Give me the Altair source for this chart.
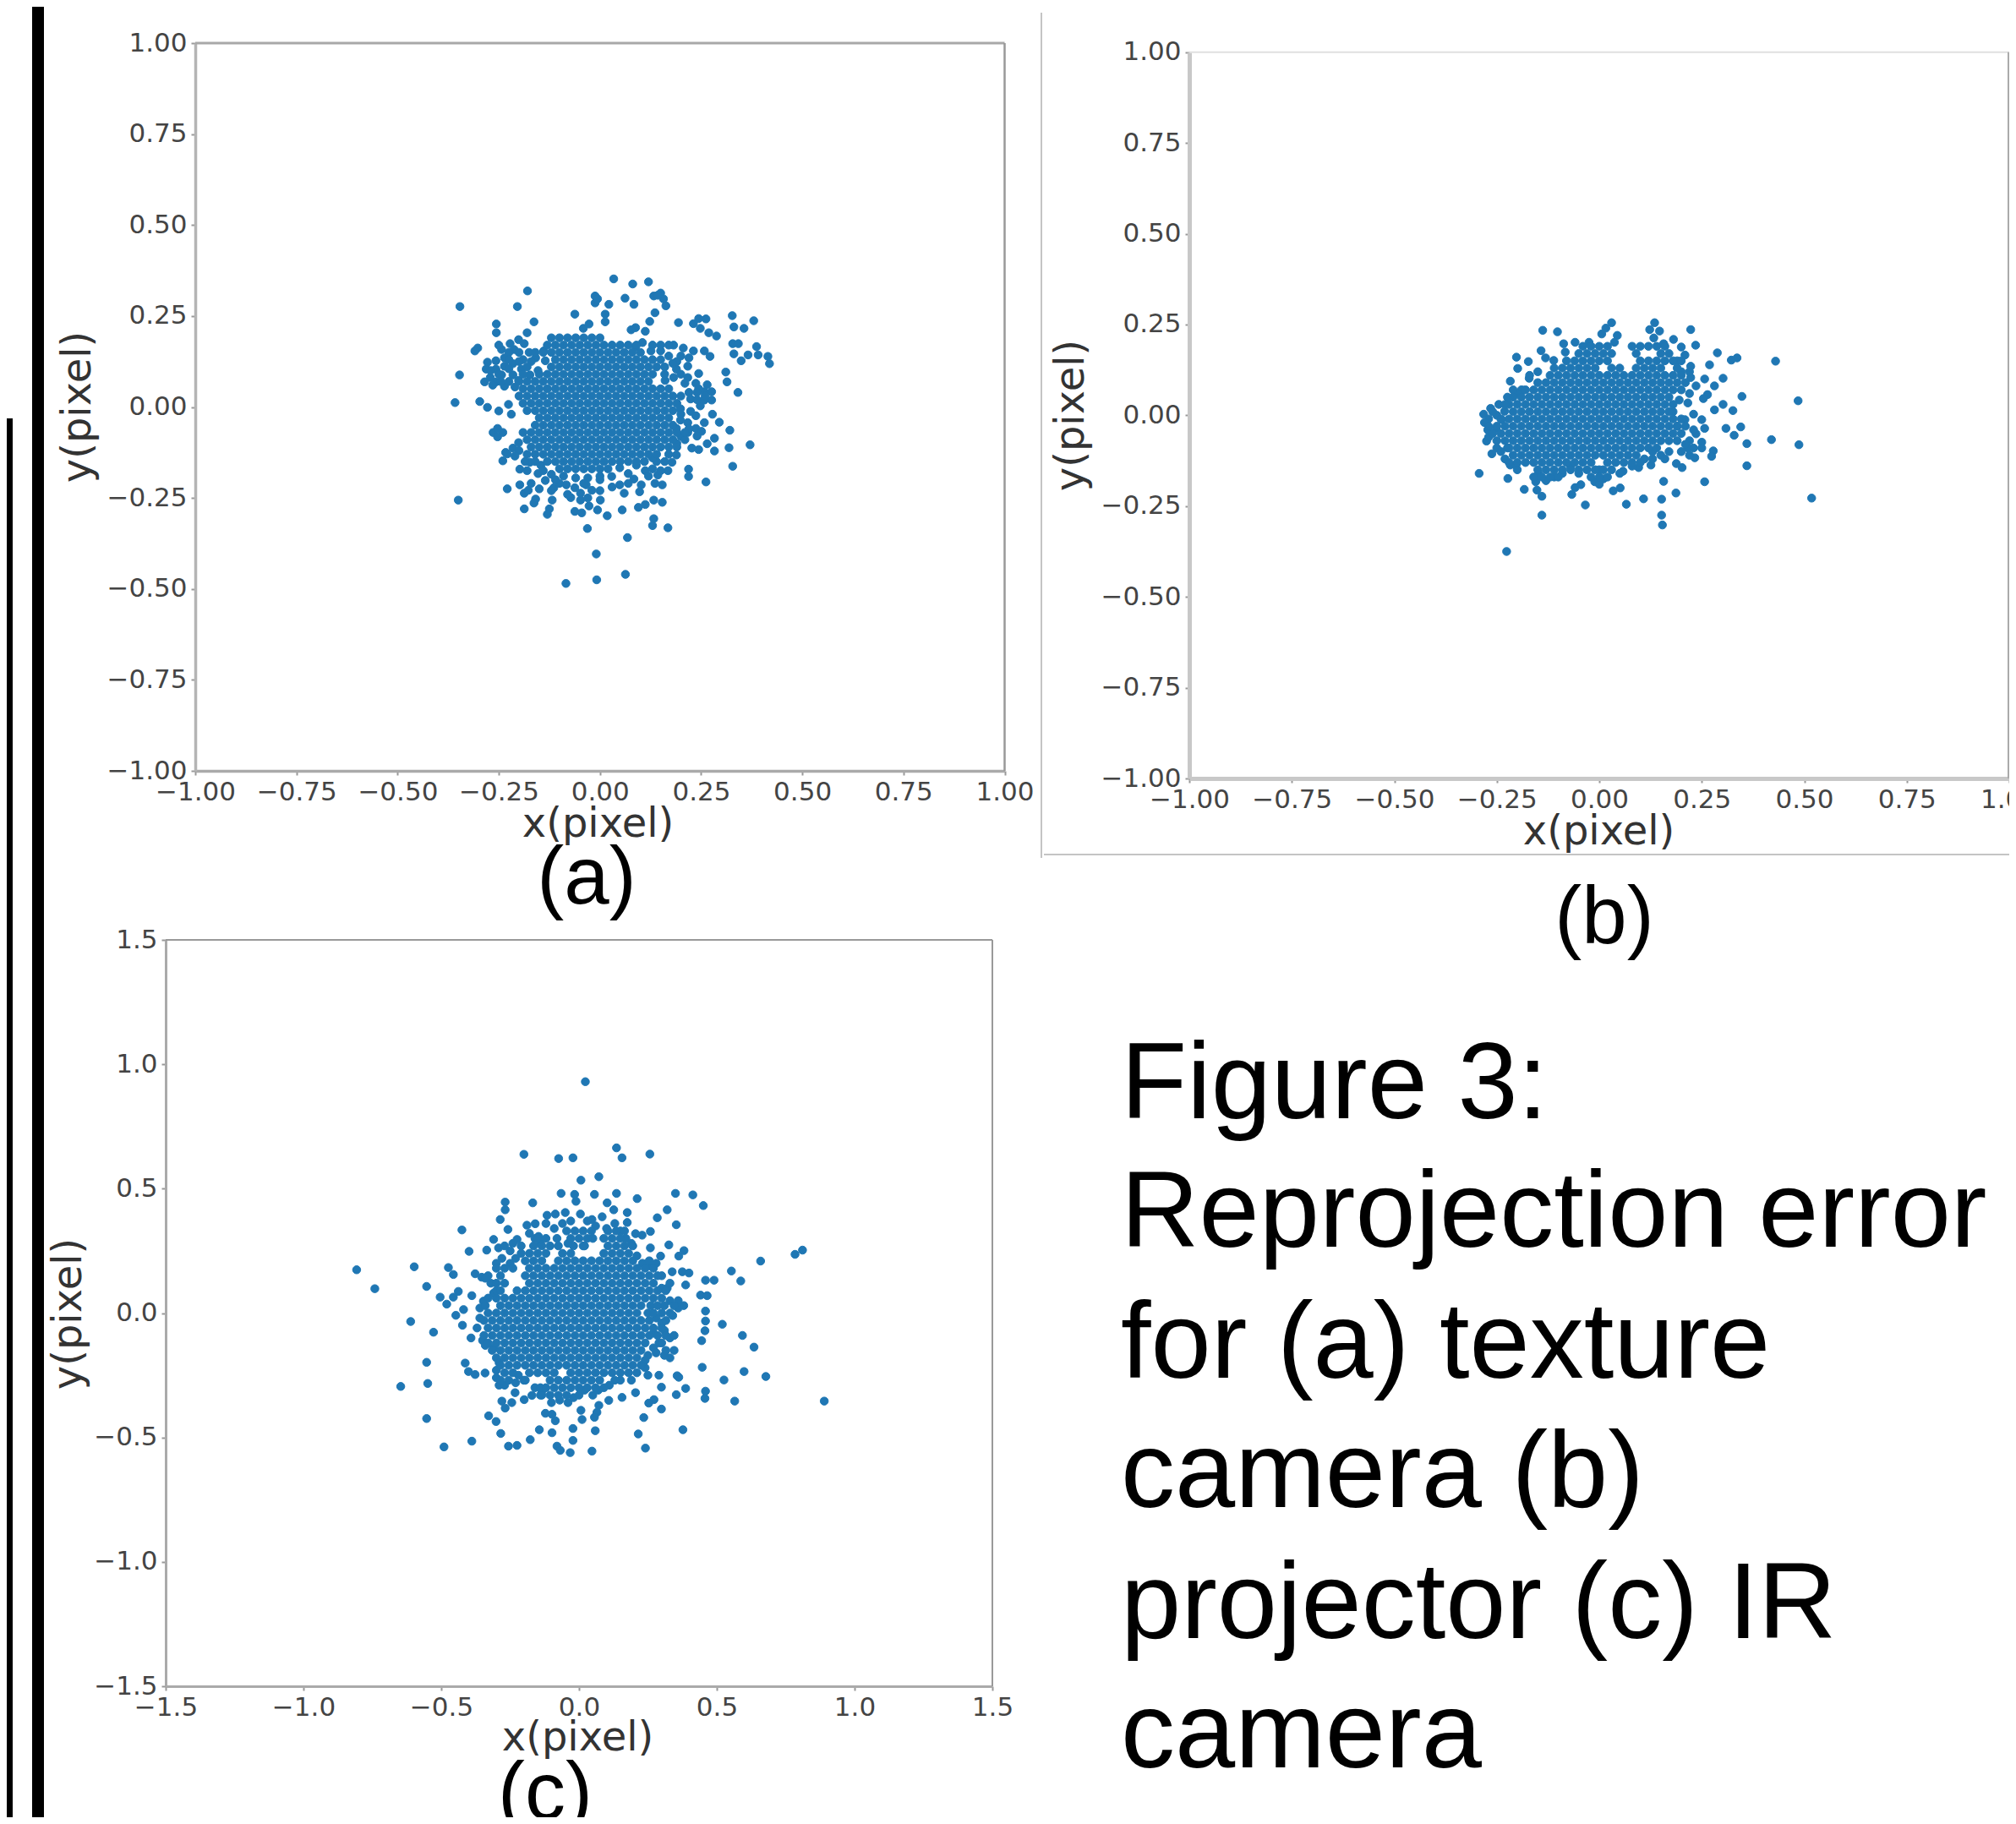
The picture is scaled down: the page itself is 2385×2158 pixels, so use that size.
import altair as alt
import pandas as pd

BLUE = "#1f77b4"
FONT = "DejaVu Sans"
SANS = "Liberation Sans"

ticks_ab = [-1, -0.75, -0.5, -0.25, 0, 0.25, 0.5, 0.75, 1]
ticks_c = [-1.5, -1, -0.5, 0, 0.5, 1, 1.5]

a_outer = [(.034,.352),(.081,.338),(.12,.344),(-.179,.319),(-.346,.276),(-.204,.276),(-.012,.305),(-.012,.286),(-.006,.297),
(.022,.282),(.062,.299),(.084,.282),(.133,.305),(.150,.313),(.157,.297),(.163,.278),(.143,.307),(.136,.259),(.123,.235),
(-.062,.255),(.013,.255),(.013,.234),(-.163,.234),(-.256,.228),(-.256,.204),(-.027,.228),(-.041,.216),(.088,.218),(.112,.208),(.077,.212),
(.194,.232),(.244,.243),(.262,.242),(.231,.229),(.248,.216),(.269,.204),(.288,.195),(.327,.251),(.380,.237),(.331,.220),(.356,.216),
(.328,.174),(.342,.174),(.387,.166),(.331,.146),(.349,.127),(.366,.143),(.391,.143),(.415,.139),(.419,.119),(-.302,.162),(-.309,.154),
(-.347,.088),(.311,.096),(.314,.069),(.341,.040),(-.358,.012),(-.297,.015),(-.278,-.001),(-.25,-.011),(-.226,.007),(-.219,-.02),
(.278,-.02),(.295,-.042),(.321,-.064),(.283,-.086),(.265,-.101),(.244,-.117),(.227,-.113),(.283,-.121),(.319,-.112),(.371,-.104),
(.328,-.163),(.219,-.171),(.219,-.191),(.262,-.206),(-.264,-.07),(-.240,-.07),(-.253,-.059),(-.253,-.082),(-.24,-.148),(-.233,-.125),
(-.198,-.171),(-.229,-.225),(-.198,-.214),(-.187,-.237),(-.177,-.229),(-.35,-.256),(-.159,-.253),(-.163,-.264),(-.187,-.28),
(-.118,-.256),(-.125,-.28),(-.13,-.295),(-.135,-.202),(-.114,-.222),(-.083,-.214),(-.072,-.249),(-.048,-.256),(-.062,-.287),(-.045,-.291),
(-.027,-.272),(-.006,-.283),(.001,-.256),(.018,-.299),(.055,-.283),(-.031,-.334),(.095,-.276),(.112,-.268),(.133,-.256),(.154,-.262),
(.133,-.307),(.130,-.326),(.168,-.332),(.068,-.359),(-.009,-.404),(.063,-.46),(-.008,-.475),(-.084,-.485),
(-.062,-.222),(-.034,-.214),(-.02,-.229),(-.048,-.237),(.029,-.191),(.049,-.214),(.06,-.237),(.084,-.198),(.102,-.214),(.098,-.233),
(.136,-.21),(.154,-.214),(.143,-.187),(.168,-.175),(.178,-.152),(.15,-.175),(.189,-.132),(.07,-.183),(.112,-.175),(.049,-.167),
(-.18,.204),(-.201,.185),(-.222,.174),(-.243,.158),(-.25,.17),(-.212,.158),(-.187,.174),(-.236,.135),(-.257,.127),(-.278,.123),(-.281,.104),
(-.257,.104),(-.236,.112),(-.215,.119),(-.271,.081),(-.285,.069),(-.257,.069),(-.236,.057),(-.243,.088),(-.215,.088),(-.194,.104),
(-.159,.135),(-.139,.154),(-.135,.127),(-.153,.1),(-.173,.088),(-.201,.073),
(.105,.177),(.088,.166),(.126,.154),(.15,.154),(.182,.17),(.206,.162),(.231,.154),(.258,.154),(.272,.139),(.22,.135),
(.189,.104),(.217,.112),(.244,.092),(.217,.081),(.182,.081),(.161,.073),(.237,.065),(.265,.061),(.276,.042),(.258,.042),(.244,.05),(.21,.065),
(.276,.019),(.258,.019),(.224,.022),(.199,-.005),(.224,-.012),(.248,.003),(.237,-.024),(.199,-.036),(.258,-.043),(.237,-.059),(.217,-.07),
(.217,-.043),(.251,-.067),(.189,-.059),(-.215,-.113),(-.229,-.129),(-.201,-.098),(-.173,-.152),(-.146,-.16),(-.153,-.183),(-.18,-.175),
(-.225,.15),(-.2,.15),(-.175,.15),(-.225,.13),(-.19,.13),(-.17,.125),(-.25,.09),(-.225,.105),(-.2,.125),(-.18,.11),(-.27,.1),(-.265,.06),
(-.245,.07),(-.225,.07),(-.21,.055),(-.19,.09),(-.2,-.12),(-.18,-.13),(-.16,-.15),(-.185,-.15),(-.21,-.135),(-.14,-.175),(-.12,-.185),(-.09,-.19),
(-.06,-.195),(-.03,-.195),(0,-.19),(0,-.2),(-.1,-.21),(-.12,-.23),(-.08,-.24),(-.03,-.25),(0,-.23),(-.15,-.225),(-.17,-.21),(-.11,-.2),(-.04,-.21),
(.03,-.22),(.07,-.21),(.12,-.19),(.13,-.17),(.09,-.16),(.14,-.15),(.16,-.15),(.17,-.13),(.13,-.14),
(.2,.14),(.17,.14),(.19,.125),(.16,.11),(.18,.12),(.2,.09),(.16,.09),(.17,.05),(.18,.03),(.16,.03),(.2,.03),(.22,.04),(.24,.04),(.26,.03),(.24,.02),
(.2,-.02),(.2,-.08),(.22,-.06),(.21,-.09),(.24,-.08),(.19,-.1),(.19,-.11),(.17,.17),(.15,.17),(.13,.17),(.1,.15),(.08,.15)]

a_core = {
.19:[-.12,-.1,-.08,-.06,-.04,-.02,0],
.17:[-.13,-.11,-.09,-.07,-.05,-.03,-.01,.01,.03,.05,.07,.09],
.15:[-.16,-.14,-.12,-.1,-.08,-.06,-.04,-.02,0,.02,.04,.06],
.13:[-.11,-.09,-.07,-.05,-.03,-.01,.01,.03,.05,.07,.09,.11,.13,.15],
.11:[-.12,-.1,-.08,-.06,-.04,-.02,0,.02,.04,.06,.08,.1,.12,.14],
.09:[-.15,-.13,-.11,-.09,-.07,-.05,-.03,-.01,.01,.03,.05,.07,.09,.11,.13],
.07:[-.2,-.18,-.16,-.14,-.12,-.1,-.08,-.06,-.04,-.02,0,.02,.04,.06,.08,.1,.12],
.05:[-.19,-.17,-.15,-.13,-.11,-.09,-.07,-.05,-.03,-.01,.01,.03,.05,.07,.09,.11,.13,.15],
.03:[-.2,-.18,-.16,-.14,-.12,-.1,-.08,-.06,-.04,-.02,0,.02,.04,.06,.08,.1,.12,.14],
.01:[-.19,-.17,-.15,-.13,-.11,-.09,-.07,-.05,-.03,-.01,.01,.03,.05,.07,.09,.11,.13,.15,.17,.19],
-.01:[-.18,-.16,-.14,-.12,-.1,-.08,-.06,-.04,-.02,0,.02,.04,.06,.08,.1,.12,.14,.16,.18],
-.03:[-.15,-.13,-.11,-.09,-.07,-.05,-.03,-.01,.01,.03,.05,.07,.09,.11,.13,.15,.17],
-.05:[-.16,-.14,-.12,-.1,-.08,-.06,-.04,-.02,0,.02,.04,.06,.08,.1,.12,.14,.16,.18],
-.07:[-.19,-.17,-.15,-.13,-.11,-.09,-.07,-.05,-.03,-.01,.01,.03,.05,.07,.09,.11,.13,.15,.17,.19,.21],
-.09:[-.18,-.16,-.14,-.12,-.1,-.08,-.06,-.04,-.02,0,.02,.04,.06,.08,.1,.12,.14,.16,.18],
-.11:[-.17,-.15,-.13,-.11,-.09,-.07,-.05,-.03,-.01,.01,.03,.05,.07,.09,.11,.13,.15,.17],
-.13:[-.16,-.14,-.12,-.1,-.08,-.06,-.04,-.02,0,.02,.04,.06,.08,.1,.12,.14],
-.15:[-.13,-.11,-.09,-.07,-.05,-.03,-.01,.01,.03,.05,.07,.09,.11],
-.17:[-.1,-.08,-.06,-.04,-.02,0,.02],
}

b_outer = [(.03,.255),(.016,.24),(.006,.224),(.044,.22),(.037,.201),(.135,.255),(.123,.236),(.147,.232),(.133,.213),(.181,.209),(.223,.236),
(.2,.188),(.235,.193),(.209,.166),(.157,.197),(-.138,.234),(-.102,.23),(-.202,.16),(-.173,.148),(-.199,.129),(-.142,.178),(-.131,.158),
(-.111,.151),(-.087,.197),(-.083,.174),(-.059,.201),(-.025,.201),(-.217,.094),(-.171,.102),(-.186,.069),(.288,.172),(.336,.158),(.322,.152),(.43,.149),
(.269,.139),(.302,.102),(.257,.1),(.281,.081),(.264,.057),(.254,.046),(.348,.052),(.485,.04),(.302,.03),(.281,.015),(.326,.013),(.345,-.032),
(.309,-.036),(.329,-.055),(.36,-.078),(.42,-.067),(.487,-.081),(.36,-.139),(.257,-.183),(.518,-.228),
(.216,.034),(.23,.003),(.25,-.012),(.257,-.036),(.236,-.051),(.25,-.074),(.278,-.098),(.274,-.113),(.233,-.117),(.216,-.09),(.202,-.144),(.188,-.133),
(.223,.104),(.236,.081),(.223,.135),(.195,.042),(.209,-.012),
(-.282,.003),(-.265,.019),(-.245,.03),(-.224,.05),(-.272,-.04),(-.252,-.036),(-.275,-.071),(-.262,-.106),(-.231,.011),(-.238,-.012),(-.224,-.09),
(-.217,-.137),(-.203,-.137),(-.293,-.16),(-.223,-.174),(-.183,-.204),(-.155,-.183),(-.152,-.206),(-.14,-.223),(-.14,-.275),(-.226,-.375),(-.148,-.16),
(-.067,-.218),(-.059,-.199),(-.045,-.191),(-.034,-.247),(.034,-.208),(.051,-.2),(.066,-.245),(.108,-.23),(.152,-.231),(.157,-.182),(.187,-.214),
(.152,-.275),(.154,-.302),(.058,-.154),(.096,-.144),(.126,-.137),(-.011,-.183),(.01,-.175),
(-.15,.12),(-.17,.11),(-.19,.07),(-.2,.06),(-.21,.07),(-.22,.03),(-.23,.03),(-.25,0),(-.27,-.01),(-.28,-.02),(-.27,-.03),(-.26,.01),(-.27,-.06),(-.25,-.07),
(-.25,-.09),(-.24,-.1),(-.23,-.12),(-.22,-.13),(-.2,-.15),(-.16,-.17),(-.13,-.18),(-.11,-.17),(-.09,-.16),(-.07,-.14),(-.05,-.16),(0,-.15),(0,-.19),(.05,-.16),
(.19,.15),(.2,.12),(.22,.12),(.2,.07),(.21,.09),(.22,.06),(.18,.03),(.18,.01),(.19,-.03),(.23,-.04),(.22,-.07),(.21,-.08),(.2,-.1),(.22,-.11),(.25,-.09),(.23,-.09),
(.17,-.1),(.15,-.11),(.13,-.1),(.13,-.12),(.11,-.12),(.1,-.13),(.08,-.14),(.16,-.12)]

b_core = {
.19:[-.04,-.02,0,.02,.08,.1,.12,.14,.16],
.17:[-.05,-.03,-.01,.01,.03,.09,.15,.17],
.15:[-.08,-.06,-.04,-.02,0,.02,.1,.12,.14,.16,.18,.2],
.13:[-.11,-.09,-.07,-.05,-.03,-.01,.03,.05,.09,.11,.13,.15,.19],
.11:[-.12,-.1,-.08,-.06,-.04,-.02,0,.02,.04,.06,.08,.1,.12,.14,.16,.18,.2],
.09:[-.15,-.13,-.11,-.09,-.07,-.05,-.03,-.01,.01,.03,.05,.07,.09,.11,.13,.15,.17,.19],
.07:[-.18,-.16,-.14,-.12,-.1,-.08,-.06,-.04,-.02,0,.02,.04,.06,.08,.1,.12,.14,.16,.18],
.05:[-.21,-.19,-.17,-.15,-.13,-.11,-.09,-.07,-.05,-.03,-.01,.01,.03,.05,.07,.09,.11,.13,.15,.17],
.03:[-.2,-.18,-.16,-.14,-.12,-.1,-.08,-.06,-.04,-.02,0,.02,.04,.06,.08,.1,.12,.14,.16],
.01:[-.21,-.19,-.17,-.15,-.13,-.11,-.09,-.07,-.05,-.03,-.01,.01,.03,.05,.07,.09,.11,.13,.15,.17],
-.01:[-.24,-.22,-.2,-.18,-.16,-.14,-.12,-.1,-.08,-.06,-.04,-.02,0,.02,.04,.06,.08,.1,.12,.14,.16,.18,.2],
-.03:[-.25,-.23,-.21,-.19,-.17,-.15,-.13,-.11,-.09,-.07,-.05,-.03,-.01,.01,.03,.05,.07,.09,.11,.13,.15,.17,.19,.21],
-.05:[-.26,-.24,-.22,-.2,-.18,-.16,-.14,-.12,-.1,-.08,-.06,-.04,-.02,0,.02,.04,.06,.08,.1,.12,.14,.16,.18,.2],
-.07:[-.23,-.21,-.19,-.17,-.15,-.13,-.11,-.09,-.07,-.05,-.03,-.01,.01,.03,.05,.07,.09,.11,.13,.15,.17,.19],
-.09:[-.22,-.2,-.18,-.16,-.14,-.12,-.1,-.08,-.06,-.04,-.02,0,.02,.04,.06,.08,.1,.12,.14],
-.11:[-.21,-.19,-.17,-.15,-.13,-.11,-.09,-.07,-.05,-.03,-.01,.01,.03,.05,.07,.09],
-.13:[-.2,-.18,-.16,-.14,-.12,-.1,-.08,-.06,-.04,-.02,.02,.04,.06,.08],
-.15:[-.15,-.13,-.11,-.09,-.07,-.05,-.03,-.01,.01,.03],
-.17:[-.14,-.12,-.1,-.02,0,.02],
}

c_outer = [(.023,.93),(-.2,.638),(-.074,.621),(-.022,.624),(.136,.664),(.156,.624),(.257,.639),(.007,.534),(.072,.548),
(-.065,.481),(-.016,.477),(-.011,.449),(.056,.477),(.136,.481),(.211,.46),(.35,.481),(.413,.475),(.451,.432),
(-.268,.446),(-.268,.415),(-.168,.443),(.102,.443),(.126,.415),(.32,.415),(.284,.383),(.353,.355),(-.286,.376),(-.425,.334),(-.258,.336),
(-.189,.353),(-.159,.359),(-.116,.393),(-.086,.398),(-.05,.404),(.005,.398),(.047,.376),(.084,.387),(.175,.404),(.175,.364),
(-.399,.248),(-.31,.296),(-.335,.253),(-.292,.262),(-.225,.296),(-.147,.308),(.205,.319),(.229,.313),(.259,.328),
(.259,.262),(.296,.229),(.326,.274),(.381,.251),(.362,.229),(-.807,.174),(-.598,.186),(-.741,.098),(-.553,.107),
(-.474,.183),(-.456,.155),(-.377,.158),(-.353,.144),(.659,.209),(.784,.236),(.811,.253),(.553,.169),(.587,.129),
(.338,.166),(.375,.166),(.399,.161),(.459,.132),(.49,.132),(.387,.113),(.441,.072),(.465,.07),
(-.504,.064),(-.48,.036),(-.438,.087),(-.456,.064),(-.389,.07),(-.347,.048),(-.419,.014),(-.447,-.009),(-.423,-.049),
(-.611,-.034),(-.528,-.077),(-.392,-.1),(.459,.008),(.459,-.032),(.457,-.071),(.445,-.111),(.52,-.045),(.593,-.09),(.635,-.137),
(-.553,-.198),(-.549,-.283),(-.647,-.295),(-.553,-.424),(-.413,-.201),(-.401,-.235),(-.377,-.247),(-.341,-.241),
(.447,-.218),(.599,-.235),(.678,-.255),(.526,-.269),(.356,-.252),(.362,-.258),(.29,-.25),(.299,-.298),(.387,-.303),(.353,-.328),
(.459,-.314),(.457,-.343),(.565,-.354),(.89,-.354),(.205,-.32),(.156,-.339),(.108,-.351),(.072,-.371),(.065,-.399),(.272,-.348),(.253,-.362),(.299,-.386),
(-.232,-.32),(-.28,-.354),(-.268,-.382),(-.244,-.36),(-.199,-.348),(-.171,-.331),(-.135,-.314),(-.328,-.413),(-.301,-.436),
(-.122,-.403),(-.098,-.407),(-.086,-.433),(.007,-.391),(.011,-.428),(.056,-.419),(.235,-.42),
(-.284,-.484),(-.144,-.469),(-.098,-.481),(-.022,-.464),(.059,-.473),(.215,-.486),(.377,-.469),
(-.389,-.515),(-.49,-.538),(-.256,-.535),(-.225,-.532),(-.177,-.509),(-.022,-.512),(-.08,-.535),(-.068,-.552),(-.032,-.561),(.047,-.555),(.241,-.543),
(-.12,.36),(-.09,.34),(-.06,.36),(-.03,.37),(.03,.37),(.06,.35),(.1,.34),(.13,.36),(.15,.33),(.17,.3),(.19,.28),(-.18,.32),(-.16,.3),(-.14,.28),(-.12,.3),
(-.08,.3),(.05,.3),(.02,.27),(-.02,.27),(-.04,.28),(-.25,.25),(-.28,.22),(-.25,.2),(-.3,.2),(-.23,.22),(-.27,.27),(-.24,.28),(-.21,.27),(.21,.23),(.23,.2),
(.26,.19),(.28,.2),(.3,.15),(.32,.1),(.3,.1),(.33,.05),(.36,.05),(.36,.02),(.38,.03),(.31,.03),(.34,-.01),(.3,0),(.26,.03),(.25,0),(.28,-.02),(.3,-.04),
(.27,-.08),(.31,-.07),(.33,-.1),(.29,-.12),(.27,-.14),(.28,-.16),(.31,-.17),(.33,-.18),(.25,-.17),(.24,-.19),(.24,-.22),(.25,-.25),(.21,-.24),(.19,-.27),
(.15,-.27),(.13,-.27),(.11,-.29),(.09,-.3),(-.36,.02),(-.34,.03),(-.33,.06),(-.31,.08),(-.3,.09),(-.32,.12),(-.33,.15),(-.34,.14),(-.36,-.02),(-.37,-.06),
(-.35,-.11),(-.34,-.13),(-.31,-.14),(-.3,-.18),(-.29,-.2),(-.3,-.23),(-.3,-.26),(-.29,-.29),(-.27,-.29),(-.22,-.25),(-.2,-.27),(-.23,-.28),(-.16,-.3),(-.14,-.3),
(-.14,-.33),(-.1,-.36),(-.07,-.35),(-.04,-.36),(-.02,-.34),(0,-.33),(.02,-.31),(.05,-.33),(.07,-.31)]

c_core = {
.33:[-.045,-.015,.015,.045,.105,.135,.165],
.30:[-.15,-.03,0,.03,.09,.12,.15],
.27:[-.165,-.135,-.105,-.075,.015,.105,.135,.165,.195],
.24:[-.21,-.18,-.15,-.12,-.06,-.03,.09,.12,.15,.18],
.21:[-.195,-.165,-.135,-.075,-.045,-.015,.015,.045,.075,.105,.135,.165,.195,.255],
.18:[-.3,-.27,-.24,-.18,-.15,-.12,-.09,-.06,-.03,0,.03,.06,.09,.12,.15,.18,.21,.24,.27],
.15:[-.285,-.195,-.165,-.135,-.105,-.075,-.045,-.015,.015,.045,.075,.105,.135,.165,.195,.225,.255,.285],
.12:[-.3,-.27,-.18,-.15,-.12,-.09,-.06,-.03,0,.03,.06,.09,.12,.15,.18,.21,.24,.27,.33],
.09:[-.285,-.225,-.195,-.165,-.135,-.105,-.075,-.045,-.015,.015,.045,.075,.105,.135,.165,.195,.225,.255,.285,.315],
.06:[-.3,-.27,-.24,-.21,-.18,-.15,-.12,-.09,-.06,-.03,0,.03,.06,.09,.12,.15,.18,.21,.24,.27,.3],
.03:[-.285,-.255,-.225,-.195,-.165,-.135,-.105,-.075,-.045,-.015,.015,.045,.075,.105,.135,.165,.195,.225,.285,.345],
0:[-.33,-.3,-.27,-.24,-.21,-.18,-.15,-.12,-.09,-.06,-.03,0,.03,.06,.09,.12,.15,.18,.21,.27,.33],
-.03:[-.345,-.315,-.285,-.255,-.225,-.195,-.165,-.135,-.105,-.075,-.045,-.015,.015,.045,.075,.105,.135,.165,.195,.225,.255,.315],
-.06:[-.33,-.3,-.27,-.24,-.21,-.18,-.15,-.12,-.09,-.06,-.03,0,.03,.06,.09,.12,.15,.18,.21,.24,.27,.3],
-.09:[-.345,-.315,-.285,-.255,-.225,-.195,-.165,-.135,-.105,-.075,-.045,-.015,.015,.045,.075,.105,.135,.165,.195,.225,.255,.285,.315,.345],
-.12:[-.33,-.3,-.27,-.24,-.21,-.18,-.15,-.12,-.09,-.06,-.03,0,.03,.06,.09,.12,.15,.18,.21,.24,.3],
-.15:[-.315,-.285,-.255,-.225,-.195,-.165,-.135,-.105,-.075,-.045,-.015,.015,.045,.075,.105,.135,.165,.195,.225,.315,.345],
-.18:[-.27,-.24,-.21,-.18,-.15,-.12,-.09,-.06,-.03,0,.03,.06,.09,.12,.15,.18,.21],
-.21:[-.285,-.255,-.225,-.195,-.165,-.135,-.105,-.075,-.045,-.015,.015,.045,.075,.105,.135,.165,.195,.225],
-.24:[-.27,-.24,-.18,-.15,-.12,-.09,-.03,0,.03,.06,.09,.12,.15,.18],
-.27:[-.285,-.255,-.195,-.105,-.075,-.045,-.015,.015,.045,.075],
-.30:[-.12,-.09,-.06,-.03,0,.03,.06],
-.33:[-.135,-.105,-.075,-.045],
}

caption_lines = ["Figure 3:", "Reprojection error", "for (a) texture", "camera (b)", "projector (c) IR", "camera"]
panel_labels = ["(a)", "(b)", "(c)"]

W, H = 2369, 2142
one = pd.DataFrame({"v": [0]})


def table(outer, core):
    rows = list(outer) + [(x, y) for y, xs in core.items() for x in xs]
    return pd.DataFrame(rows, columns=["x", "y"])


def panel(df, dom, ticks, fmt, left, right, top, bottom, xt, yt, lw, bw, lc, bc, rc, tc, rw, tw):
    # left..bottom are page pixels; the view origin is the page's 8px margin
    l, r, t, b = left - 8, right - 8, top - 8, bottom - 8
    sx = alt.Scale(domain=[-dom, dom], range=[l, r], nice=False, zero=False)
    sy = alt.Scale(domain=[-dom, dom], range=[b, t], nice=False, zero=False)
    common = dict(values=ticks, format=fmt, grid=False, labelFont=FONT, labelFontSize=31, labelColor="#444",
                  tickColor="#999", tickWidth=2, tickSize=5, labelPadding=5, labelOverlap=False,
                  labelFlush=False, labelBound=False, titleFont=FONT, titleFontSize=48,
                  titleFontWeight="normal", titleColor="#333", titleBaseline="middle", titleAlign="center")
    xa = alt.Axis(orient="bottom", offset=b - H, title="x(pixel)", titleX=xt[0] - 8, titleY=xt[1] - bottom,
                  domainColor=bc, domainWidth=bw, **common)
    ya = alt.Axis(orient="left", offset=-l, title="y(pixel)", titleX=yt[0] - left, titleY=yt[1] - 8,
                  titleAngle=270, domainColor=lc, domainWidth=lw, **common)
    pts = alt.Chart(df).mark_circle(size=90, color=BLUE, opacity=1, stroke=BLUE, strokeWidth=1).encode(
        x=alt.X("x:Q", scale=sx, axis=xa), y=alt.Y("y:Q", scale=sy, axis=ya))
    top_rule = alt.Chart(one).mark_rule(color=tc, strokeWidth=tw).encode(
        x=alt.X(datum=-dom, scale=sx, axis=None), x2=alt.datum(dom), y=alt.Y(datum=dom, scale=sy, axis=None))
    right_rule = alt.Chart(one).mark_rule(color=rc, strokeWidth=rw).encode(
        x=alt.X(datum=dom, scale=sx, axis=None), y=alt.Y(datum=-dom, scale=sy, axis=None), y2=alt.datum(dom))
    return [top_rule, right_rule, pts]


def text(s, x, y, size, align="left"):
    return alt.Chart(one).mark_text(text=s, font=SANS, fontSize=size, color="#000", align=align,
                                    baseline="alphabetic").encode(x=alt.value(x - 8), y=alt.value(y - 8))


def box(x1, x2, y1, y2, color):
    return alt.Chart(one).mark_rect(color=color).encode(
        x=alt.value(x1 - 8), x2=alt.value(x2 - 8), y=alt.value(y1 - 8), y2=alt.value(y2 - 8))


layers = [box(8, 15, 495, 2150, "#000"), box(38, 52, 8, 2150, "#000"),
          box(1231, 1233, 15, 1015, "#c4c4c4"), box(1235, 2377, 1010, 1012, "#c4c4c4")]
layers += panel(table(a_outer, a_core), 1, ticks_ab, ".2f", 231, 1188.5, 51, 912, (707, 975), (92, 481),
                3.5, 3.5, "#b4b4b4", "#aaaaaa", "#999999", "#a8a8a8", 2.5, 3)
layers += panel(table(b_outer, b_core), 1, ticks_ab, ".2f", 1407, 2377, 61.7, 921, (1891, 984), (1267, 491),
                5, 5, "#c8c8c8", "#c8c8c8", "#aaaaaa", "#e0e0e0", 4, 2)
layers += panel(table(c_outer, c_core), 1.5, ticks_c, ".1f", 196, 1174, 1112, 1995, (683, 2056), (81, 1554),
                3, 3, "#aaaaaa", "#aaaaaa", "#999999", "#999999", 2, 2)
layers += [text(s, 1326, y, 128) for s, y in zip(caption_lines, [1323, 1475, 1630, 1783, 1938, 2091])]
layers += [text(s, x, y, 96, "center") for s, x, y in zip(panel_labels, [694, 1898, 645], [1069, 1116, 2152])]

chart = alt.layer(*layers).resolve_scale(x="independent", y="independent").properties(
    width=W, height=H, padding=0, background="white",
    autosize=alt.AutoSizeParams(type="none", contains="content"),
).configure_view(stroke=None)

chart.save("out.html", embed_options={"renderer": "svg", "actions": False})
